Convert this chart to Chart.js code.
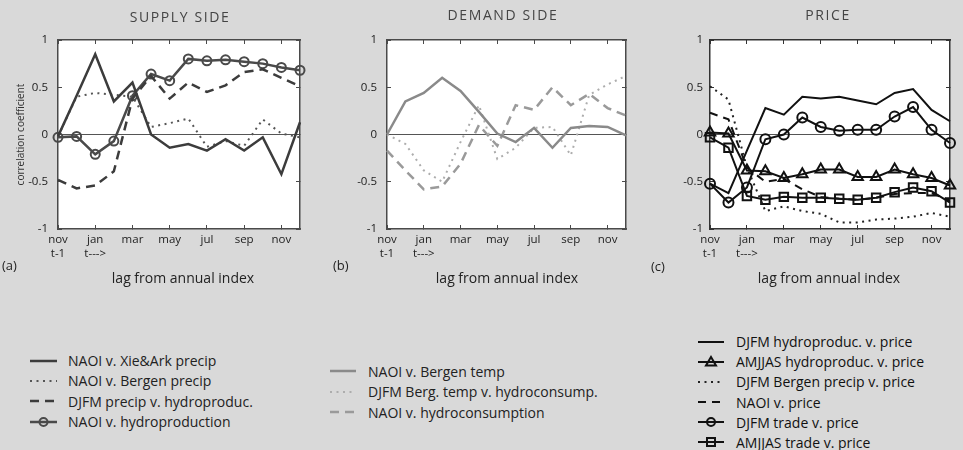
<!DOCTYPE html>
<html>
<head>
<meta charset="utf-8">
<script src="https://cdn.jsdelivr.net/npm/chart.js@4.4.1/dist/chart.umd.min.js"></script>
<style>
  html, body { margin: 0; padding: 0; }
  body {
    width: 963px; height: 450px; position: relative; overflow: hidden;
    background: #d9d9d9; font-family: 'Open Sans', sans-serif; color: #333;
  }
  .panel { position: absolute; top: 0; width: 321px; height: 262px; }
  .txt { position: absolute; white-space: nowrap; line-height: 1; color: #222; }
  .title { font-size: 14px; letter-spacing: 1.6px; color: #444; transform: translateX(-50%); }
  .tag { font-size: 13px; }
  .xlab { font-size: 14px; transform: translateX(-50%); }
  .legend { position: absolute; font-size: 14px; }
  .legend .row { display: flex; align-items: center; white-space: nowrap; }
  .legend svg { flex: none; }
</style>
</head>
<body>
<div class="panel" style="left:0"><canvas id="supply"></canvas></div>
<div class="panel" style="left:321px"><canvas id="demand"></canvas></div>
<div class="panel" style="left:642px"><canvas id="price"></canvas></div>

<div class="txt title" style="left:180px;top:10px">SUPPLY SIDE</div>
<div class="txt title" style="left:503px;top:7.5px">DEMAND SIDE</div>
<div class="txt title" style="left:828px;top:7.5px">PRICE</div>

<div class="txt tag" style="left:2px;top:258.5px">(a)</div>
<div class="txt tag" style="left:333px;top:258.5px">(b)</div>
<div class="txt tag" style="left:651px;top:259.5px">(c)</div>

<div class="txt xlab" style="left:183px;top:270.5px">lag from annual index</div>
<div class="txt xlab" style="left:507px;top:270.5px">lag from annual index</div>
<div class="txt xlab" style="left:829px;top:270.5px">lag from annual index</div>

<div class="legend" id="legend-supply" style="left:30px;top:350.5px"></div>
<div class="legend" id="legend-demand" style="left:330px;top:361px"></div>
<div class="legend" id="legend-price" style="left:698px;top:331.7px"></div>

<script>
// lags: nov of year t-1 through dec of year t
const months = ["nov", "dec", "jan", "feb", "mar", "apr", "may", "jun", "jul", "aug", "sep", "oct", "nov", "dec"];
const monthSubLabels = ["t-1", "", "t--->", "", "", "", "", "", "", "", "", "", "", ""];
const yTicks = [-1, -0.5, 0, 0.5, 1];

// (a) supply side
const naoiXieArkPrecip = [-0.02, 0.41, 0.85, 0.35, 0.55, 0.00, -0.14, -0.10, -0.17, -0.05, -0.17, -0.03, -0.42, 0.13];
const naoiBergenPrecip = [-0.02, 0.40, 0.44, 0.42, 0.40, 0.08, 0.12, 0.17, -0.13, -0.07, -0.12, 0.16, 0.01, -0.03];
const djfmPrecipHydroproduc = [-0.48, -0.57, -0.54, -0.39, 0.38, 0.62, 0.38, 0.55, 0.45, 0.52, 0.66, 0.69, 0.60, 0.51];
const naoiHydroproduction = [-0.03, -0.02, -0.21, -0.07, 0.41, 0.64, 0.57, 0.80, 0.78, 0.79, 0.77, 0.75, 0.71, 0.68];

// (b) demand side
const naoiBergenTemp = [0.00, 0.35, 0.44, 0.60, 0.46, 0.24, 0.01, -0.08, 0.07, -0.14, 0.07, 0.09, 0.08, -0.01];
const djfmBergTempHydroconsump = [0.00, -0.10, -0.38, -0.50, -0.08, 0.31, -0.26, -0.14, 0.07, 0.08, -0.22, 0.42, 0.53, 0.62];
const naoiHydroconsumption = [-0.17, -0.38, -0.58, -0.55, -0.31, 0.10, -0.12, 0.31, 0.26, 0.50, 0.31, 0.43, 0.28, 0.20];

// (c) price
const djfmHydroproducPrice = [-0.52, -0.62, -0.17, 0.28, 0.21, 0.40, 0.38, 0.40, 0.36, 0.32, 0.44, 0.48, 0.26, 0.14];
const amjjasHydroproducPrice = [0.02, 0.01, -0.38, -0.39, -0.46, -0.42, -0.37, -0.37, -0.45, -0.45, -0.37, -0.42, -0.46, -0.54];
const djfmBergenPrecipPrice = [0.51, 0.37, -0.35, -0.81, -0.76, -0.81, -0.84, -0.93, -0.93, -0.90, -0.89, -0.87, -0.83, -0.87];
const naoiPrice = [0.23, 0.16, -0.35, -0.50, -0.47, -0.58, -0.66, -0.68, -0.69, -0.67, -0.63, -0.62, -0.62, -0.70];
const djfmTradePrice = [-0.52, -0.72, -0.56, -0.05, 0.00, 0.18, 0.08, 0.04, 0.05, 0.05, 0.19, 0.29, 0.05, -0.09];
const amjjasTradePrice = [-0.03, -0.14, -0.65, -0.69, -0.66, -0.67, -0.67, -0.68, -0.69, -0.67, -0.61, -0.56, -0.60, -0.72];

const DOT = [2, 4.5];
const DASH = [9, 6];

Chart.defaults.font.family = "'Open Sans', sans-serif";
Chart.defaults.color = "#222";

// white plot box on the grey figure background
const plotBackground = {
  id: "plotBackground",
  beforeDraw(chart) {
    const { ctx, chartArea: a } = chart;
    ctx.save();
    ctx.fillStyle = "#fff";
    ctx.fillRect(a.left, a.top, a.width, a.height);
    ctx.restore();
  }
};

function series(label, data, color, width, dash, marker, radius) {
  return {
    label,
    data,
    borderColor: color,
    borderWidth: width,
    borderDash: dash || [],
    tension: 0,
    fill: false,
    pointStyle: marker || "circle",
    pointRadius: marker ? radius : 0,
    pointBorderColor: color,
    pointBorderWidth: 2,
    pointBackgroundColor: "rgba(0,0,0,0)",
    xAxisID: "x",
    yAxisID: "y",
    _marker: marker || null
  };
}

// matlab-like box: inward ticks on all four sides, zero line only
function panelOptions(g) {
  const frame = g.frame;
  const evenTick = (ctx) => (ctx.index % 2 ? "rgba(0,0,0,0)" : frame);
  return {
    responsive: false,
    animation: false,
    events: [],
    layout: { padding: { left: 0, right: g.padRight, top: g.top, bottom: 0 } },
    plugins: { legend: { display: false }, tooltip: { enabled: false } },
    scales: {
      x: {
        type: "category",
        position: "bottom",
        border: { color: frame, width: 1.5 },
        grid: { drawOnChartArea: false, tickLength: -4, tickColor: evenTick },
        ticks: {
          autoSkip: false, maxRotation: 0, padding: 8,
          font: { size: 11.5 }, color: "#222",
          callback: (v, i) => (i % 2 ? "" : (monthSubLabels[i] ? [months[i], monthSubLabels[i]] : months[i]))
        },
        afterFit: (s) => { s.height = g.xHeight; }
      },
      x2: {
        type: "category",
        position: "top",
        border: { color: frame, width: 1.5 },
        grid: { drawOnChartArea: false, tickLength: -4, tickColor: evenTick },
        ticks: { display: false, autoSkip: false },
        afterFit: (s) => { s.height = 0; }
      },
      y: {
        min: -1, max: 1,
        position: "left",
        border: { color: frame, width: 1.5 },
        grid: {
          tickLength: -4, tickColor: frame, lineWidth: 1,
          color: (ctx) => (ctx.tick && ctx.tick.value === 0 ? "#555" : "rgba(0,0,0,0)")
        },
        afterBuildTicks: (s) => { s.ticks = yTicks.map((v) => ({ value: v })); },
        ticks: { padding: g.yPad, font: { size: 11.5 }, color: "#222", callback: (v) => String(v) },
        title: {
          display: !!g.yTitle, text: g.yTitle || "",
          font: { size: 10 }, color: "#333", padding: { top: 15, bottom: 0 }
        },
        afterFit: (s) => { s.width = g.left; }
      },
      y2: {
        min: -1, max: 1,
        position: "right",
        border: { color: frame, width: 1.5 },
        grid: { drawOnChartArea: false, tickLength: -4, tickColor: frame },
        afterBuildTicks: (s) => { s.ticks = yTicks.map((v) => ({ value: v })); },
        ticks: { display: false },
        afterFit: (s) => { s.width = 0; }
      }
    }
  };
}

function buildPanel(id, datasets, g) {
  const canvas = document.getElementById(id);
  canvas.width = 321;
  canvas.height = 262;
  return new Chart(canvas, {
    type: "line",
    data: { labels: months, datasets },
    options: panelOptions(g),
    plugins: [plotBackground]
  });
}

function markerSvg(ds, cx, cy) {
  const c = ds.borderColor;
  if (ds._marker === "circle") {
    return `<circle cx="${cx}" cy="${cy}" r="4" fill="none" stroke="${c}" stroke-width="2"/>`;
  }
  if (ds._marker === "triangle") {
    return `<polygon points="${cx},${cy - 5} ${cx + 5},${cy + 3.5} ${cx - 5},${cy + 3.5}" fill="none" stroke="${c}" stroke-width="2"/>`;
  }
  if (ds._marker === "rect") {
    return `<rect x="${cx - 4}" y="${cy - 4}" width="8" height="8" fill="none" stroke="${c}" stroke-width="2"/>`;
  }
  return "";
}

// legend rows built from the chart's own dataset styles
function buildLegend(chart, elId, opts) {
  const el = document.getElementById(elId);
  chart.data.datasets.forEach((ds) => {
    const w = opts.sample;
    const row = document.createElement("div");
    row.className = "row";
    row.style.height = opts.rowHeight + "px";
    row.style.color = opts.color;
    const dash = (ds.borderDash || []).join(" ");
    row.innerHTML =
      `<svg width="${w}" height="14" style="margin-right:${opts.gap}px">` +
      `<line x1="0" y1="7" x2="${w}" y2="7" stroke="${ds.borderColor}" stroke-width="${ds.borderWidth}" stroke-dasharray="${dash}"/>` +
      markerSvg(ds, w / 2, 7) +
      `</svg><span>${ds.label.replace(/&/g, "&amp;")}</span>`;
    el.appendChild(row);
  });
}

const supplyGrey = "#3c3c3c";
const supplyChart = buildPanel("supply", [
  series("NAOI v. Xie&Ark precip", naoiXieArkPrecip, supplyGrey, 2.5),
  series("NAOI v. Bergen precip", naoiBergenPrecip, "#555", 2, DOT),
  series("DJFM precip v. hydroproduc.", djfmPrecipHydroproduc, supplyGrey, 2.5, DASH),
  series("NAOI v. hydroproduction", naoiHydroproduction, "#4a4a4a", 2.5, null, "circle", 4.5)
], { left: 58, padRight: 21, top: 40, xHeight: 33, yPad: 14, frame: "#4a4a4a", yTitle: "correlation coefficient" });

const demandChart = buildPanel("demand", [
  series("NAOI v. Bergen temp", naoiBergenTemp, "#8a8a8a", 2.5),
  series("DJFM Berg. temp v. hydroconsump.", djfmBergTempHydroconsump, "#adadad", 2, DOT),
  series("NAOI v. hydroconsumption", naoiHydroconsumption, "#9a9a9a", 2.5, DASH)
], { left: 66, padRight: 16, top: 40, xHeight: 33, yPad: 14, frame: "#4a4a4a" });

const priceChart = buildPanel("price", [
  series("DJFM hydroproduc. v. price", djfmHydroproducPrice, "#111", 2),
  series("AMJJAS hydroproduc. v. price", amjjasHydroproducPrice, "#111", 2, null, "triangle", 6),
  series("DJFM Bergen precip v. price", djfmBergenPrecipPrice, "#222", 2, DOT),
  series("NAOI v. price", naoiPrice, "#111", 2, [8, 6]),
  series("DJFM trade v. price", djfmTradePrice, "#111", 2, null, "circle", 5),
  series("AMJJAS trade v. price", amjjasTradePrice, "#111", 2, null, "rect", 6)
], { left: 68, padRight: 13, top: 40, xHeight: 33, yPad: 11, frame: "#333" });

buildLegend(supplyChart, "legend-supply", { sample: 27, gap: 11, rowHeight: 20.3, color: "#222" });
buildLegend(demandChart, "legend-demand", { sample: 26, gap: 12, rowHeight: 20.6, color: "#222" });
buildLegend(priceChart, "legend-price", { sample: 26, gap: 12, rowHeight: 20.1, color: "#111" });
</script>
</body>
</html>
